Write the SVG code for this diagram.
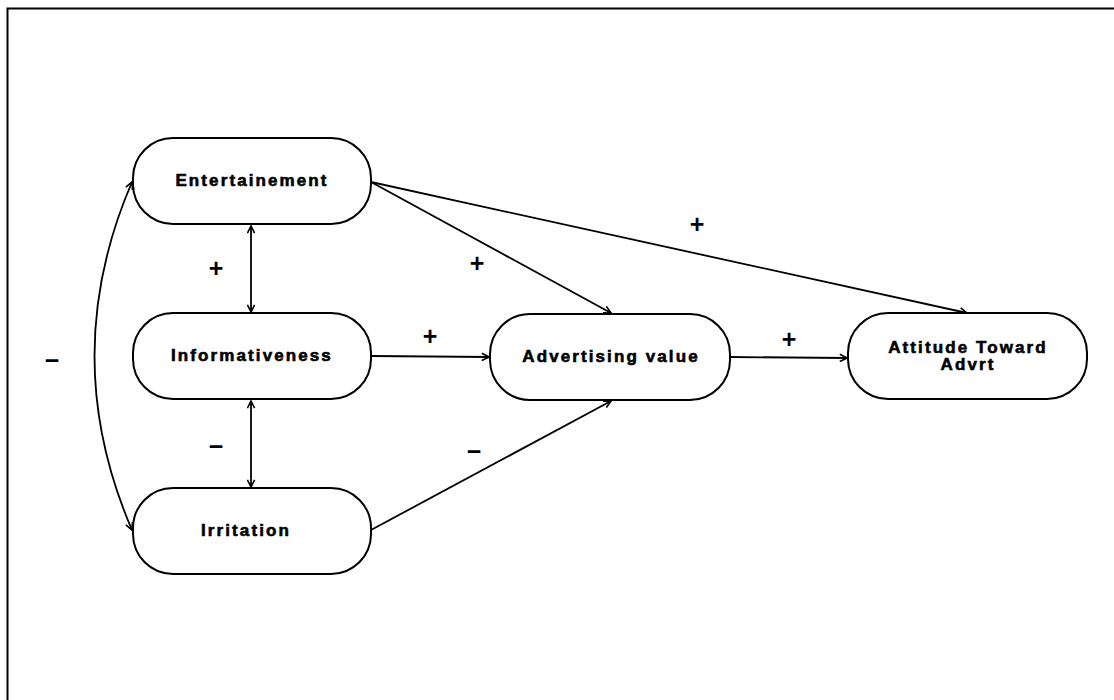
<svg xmlns="http://www.w3.org/2000/svg" width="1114" height="700" viewBox="0 0 1114 700">
<defs>
<style>
.node rect{fill:#fff;stroke:#000;stroke-width:2}
.node text{font-family:"Liberation Sans",Arial,sans-serif;font-weight:bold;font-size:17px;letter-spacing:2.1px;fill:#000;stroke:#000;stroke-width:0.6;text-anchor:middle;dominant-baseline:central}
.conn{fill:none;stroke:#000;stroke-width:1.8}
.lbl{font-family:"Liberation Sans",Arial,sans-serif;font-weight:bold;font-size:25px;fill:#000;text-anchor:middle;dominant-baseline:central}
</style>
<marker id="ah" viewBox="0 0 10 10" refX="9" refY="5" markerWidth="9" markerHeight="9" markerUnits="userSpaceOnUse" orient="auto-start-reverse">
<path d="M1,1 L9,5 L1,9" fill="none" stroke="#000" stroke-width="1.8"/>
</marker>
</defs>
<rect x="0" y="0" width="1114" height="700" fill="#fff"/>
<rect x="7.5" y="8.5" width="1200" height="800" fill="none" stroke="#000" stroke-width="2"/>
<g id="connectors">
<line class="conn" x1="371" y1="182" x2="611" y2="313" marker-end="url(#ah)"/>
<line class="conn" x1="371" y1="182" x2="967" y2="313" marker-end="url(#ah)"/>
<line class="conn" x1="371" y1="356" x2="489" y2="357" marker-end="url(#ah)"/>
<line class="conn" x1="730" y1="357" x2="847" y2="358" marker-end="url(#ah)"/>
<line class="conn" x1="371" y1="530" x2="611" y2="401" marker-end="url(#ah)"/>
<line class="conn" x1="251" y1="226" x2="251" y2="312" marker-start="url(#ah)" marker-end="url(#ah)"/>
<line class="conn" x1="251" y1="401" x2="251" y2="487" marker-start="url(#ah)" marker-end="url(#ah)"/>
<path class="conn" d="M132,182 Q57,356 132,530" marker-start="url(#ah)" marker-end="url(#ah)"/>
</g>
<g id="labels">
<text class="lbl" x="216" y="268">+</text>
<text class="lbl" x="477" y="263">+</text>
<text class="lbl" x="697" y="224">+</text>
<text class="lbl" x="430" y="336">+</text>
<text class="lbl" x="789" y="339">+</text>
<text class="lbl" x="52" y="360">−</text>
<text class="lbl" x="216" y="446">−</text>
<text class="lbl" x="474" y="451">−</text>
</g>
<g id="entertainement" class="node">
<rect x="133" y="138" width="238" height="86" rx="40"/>
<text x="252" y="180">Entertainement</text>
</g>
<g id="informativeness" class="node">
<rect x="133" y="313" width="238" height="86" rx="40"/>
<text x="252" y="355">Informativeness</text>
</g>
<g id="irritation" class="node">
<rect x="133" y="488" width="238" height="86" rx="40"/>
<text x="246" y="530">Irritation</text>
</g>
<g id="advertising-value" class="node">
<rect x="490" y="314" width="240" height="86" rx="40"/>
<text x="611" y="356">Advertising value</text>
</g>
<g id="attitude" class="node">
<rect x="848" y="313" width="239" height="86" rx="40"/>
<text x="968" y="347">Attitude Toward</text>
<text x="968" y="364">Advrt</text>
</g>
</svg>
